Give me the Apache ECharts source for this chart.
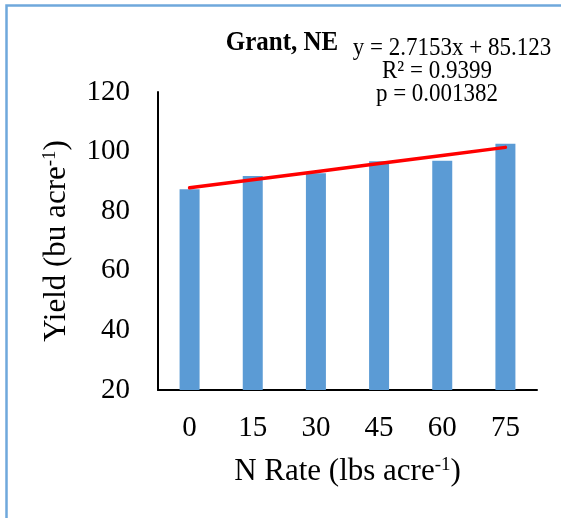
<!DOCTYPE html>
<html>
<head>
<meta charset="utf-8">
<title>Grant, NE</title>
<script src="https://cdn.jsdelivr.net/npm/echarts@6/dist/echarts.min.js"></script>
<style>
  html, body { margin: 0; padding: 0; background: #fff; }
  #chart { width: 561px; height: 518px; }
</style>
</head>
<body>
<div id="chart"></div>
<script>
// N rate treatments (lbs acre-1) and mean yield (bu acre-1)
const nRates = ['0', '15', '30', '45', '60', '75'];
const yields = [87.4, 91.8, 92.7, 96.8, 96.9, 102.6];

// Linear fit reported on the chart (x = treatment order 1..6)
const slope = 2.7153;
const intercept = 85.123;
const rSquared = '0.9399';
const pValue = '0.001382';

const yTicks = { min: 20, max: 120, step: 20 };

const trend = nRates.map((_, i) => +(slope * (i + 1) + intercept).toFixed(3));

const serif = '"Liberation Serif", "Times New Roman", serif';

const titleRich = {
  t: { fontFamily: serif, fontSize: 31, fontWeight: 'normal', color: '#000' },
  s: { fontFamily: serif, fontSize: 19, fontWeight: 'normal', color: '#000', verticalAlign: 'top', padding: [0, 0, 12, 0] }
};

function note(text, x, y, font) {
  return {
    type: 'text',
    x: x, y: y,
    scaleY: 1.1,
    style: { text: text, font: font, fill: '#000', align: 'center', verticalAlign: 'middle' }
  };
}

const chart = echarts.init(document.getElementById('chart'), null, { renderer: 'canvas' });

chart.setOption({
  backgroundColor: '#ffffff',
  animation: false,
  textStyle: { fontFamily: serif, color: '#000' },
  grid: { left: 158, top: 92, right: 24, bottom: 128, containLabel: false },
  xAxis: {
    type: 'category',
    data: nRates,
    boundaryGap: true,
    axisLine: { show: true, lineStyle: { color: '#000', width: 2 } },
    axisTick: { show: false },
    axisLabel: { fontFamily: serif, fontSize: 29, color: '#000', margin: 24 },
    name: '{t|N Rate (lbs acre}{s|-1}{t|)}',
    nameLocation: 'middle',
    nameGap: 66,
    nameTextStyle: { fontWeight: 'normal', rich: titleRich }
  },
  yAxis: {
    type: 'value',
    min: yTicks.min,
    max: yTicks.max,
    interval: yTicks.step,
    axisLine: { show: true, lineStyle: { color: '#000', width: 2 } },
    axisTick: { show: false },
    splitLine: { show: false },
    axisLabel: { fontFamily: serif, fontSize: 29, color: '#000', margin: 28 },
    name: '{t|Yield (bu acre}{s|-1}{t|)}',
    nameLocation: 'middle',
    nameRotate: 90,
    nameGap: 86,
    nameTextStyle: { fontWeight: 'normal', rich: titleRich }
  },
  series: [
    {
      name: 'Yield',
      type: 'bar',
      data: yields,
      barWidth: 20,
      itemStyle: { color: '#5B9BD5' }
    },
    {
      name: 'Linear fit',
      type: 'line',
      data: trend,
      symbol: 'none',
      z: 5,
      lineStyle: { color: '#FF0000', width: 3.5, cap: 'round' }
    }
  ],
  graphic: [
    {
      type: 'rect',
      silent: true,
      shape: { x: 6.5, y: 5.5, width: 620, height: 620 },
      style: { fill: 'none', stroke: '#6FA8DC', lineWidth: 2.5 }
    },
    note('Grant, NE', 282, 43, 'bold 25px ' + serif),
    note('y = ' + slope + 'x + ' + intercept, 452, 48, '23px ' + serif),
    note('R² = ' + rSquared, 437, 71, '23px ' + serif),
    note('p = ' + pValue, 437, 94, '23px ' + serif)
  ]
});
</script>
</body>
</html>
